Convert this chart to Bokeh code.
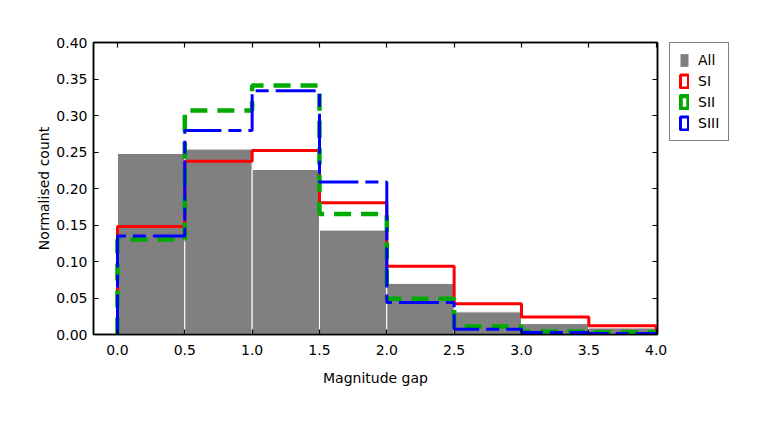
from bokeh.plotting import figure
from bokeh.layouts import row
from bokeh.models import (Range1d, LinearAxis, FixedTicker, NumeralTickFormatter,
                          Legend, LegendItem)
from bokeh.embed import file_html
from bokeh.resources import INLINE

# ---- data ----
bin_edges = [0.0, 0.5, 1.0, 1.5, 2.0, 2.5, 3.0, 3.5, 4.0]
all_vals = [0.248, 0.254, 0.226, 0.143, 0.070, 0.031, 0.015, 0.009]
si_vals = [0.148, 0.2375, 0.252, 0.1805, 0.0935, 0.042, 0.024, 0.012]
sii_vals = [0.130, 0.307, 0.341, 0.165, 0.049, 0.011, 0.004, 0.003]
siii_vals = [0.135, 0.2795, 0.334, 0.209, 0.044, 0.0073, 0.0027, 0.0012]
x_ticks = [0.0, 0.5, 1.0, 1.5, 2.0, 2.5, 3.0, 3.5, 4.0]
y_ticks = [0.0, 0.05, 0.10, 0.15, 0.20, 0.25, 0.30, 0.35, 0.40]
labels = ["All", "SI", "SII", "SIII"]
colors = ["#808080", "#ff0000", "#00aa00", "#0000ff"]

FONT = "DejaVu Sans"
FS = "14px"


def step_path(edges, vals):
    xs, ys = [edges[0]], [0.0]
    for i, v in enumerate(vals):
        xs += [edges[i], edges[i + 1]]
        ys += [v, v]
    xs.append(edges[-1])
    ys.append(0.0)
    return xs, ys


FW, FH = 564, 292
p = figure(frame_width=FW, frame_height=FH, output_backend="svg",
           toolbar_location=None, x_range=Range1d(-0.178, 4.01),
           y_range=Range1d(0.0, 0.40), min_border_left=93, min_border_top=42,
           min_border_bottom=75, min_border_right=12)
p.xgrid.visible = False
p.ygrid.visible = False
p.outline_line_color = "black"
p.outline_line_width = 1.5

centers = [(bin_edges[i] + bin_edges[i + 1]) / 2 for i in range(len(all_vals))]
widths = [bin_edges[i + 1] - bin_edges[i] for i in range(len(all_vals))]
p.vbar(x=centers, width=widths, top=all_vals, bottom=0,
       fill_color=colors[0], line_color="white", line_width=1)

xs, ys = step_path(bin_edges, si_vals)
p.line(xs, ys, line_color=colors[1], line_width=3)
xs, ys = step_path(bin_edges, sii_vals)
p.line(xs, ys, line_color=colors[2], line_width=4.5, line_dash="17 10")
xs, ys = step_path(bin_edges, siii_vals)
p.line(xs, ys, line_color=colors[3], line_width=3, line_dash="40 7 13 7")


def style_axis(ax, ticks, fmt, show_labels=True):
    ax.ticker = FixedTicker(ticks=ticks)
    ax.formatter = NumeralTickFormatter(format=fmt)
    ax.major_tick_in = 5
    ax.major_tick_out = 0
    ax.minor_tick_line_color = None
    ax.axis_line_color = "black"
    ax.axis_line_width = 1.5
    ax.major_tick_line_width = 1.2
    ax.major_tick_line_color = "black"
    ax.major_label_text_font = FONT
    if show_labels:
        ax.major_label_text_font_size = FS
        ax.major_label_text_color = "black"
    else:
        ax.major_label_text_font_size = "1px"
        ax.major_label_text_color = None
        ax.major_label_standoff = 0
    ax.axis_label_text_font = FONT
    ax.axis_label_text_font_size = FS
    ax.axis_label_text_font_style = "normal"
    ax.axis_label_text_color = "black"


style_axis(p.xaxis[0], x_ticks, "0.0")
p.xaxis[0].axis_label = "Magnitude gap"
p.xaxis[0].major_label_standoff = 10
p.xaxis[0].axis_label_standoff = 12
style_axis(p.yaxis[0], y_ticks, "0.00")
p.yaxis[0].axis_label = "Normalised count"
p.yaxis[0].major_label_standoff = 6
p.yaxis[0].axis_label_standoff = 1

top_ax = LinearAxis()
style_axis(top_ax, x_ticks, "0.0", show_labels=False)
p.add_layout(top_ax, "above")
right_ax = LinearAxis()
style_axis(right_ax, y_ticks, "0.00", show_labels=False)
p.add_layout(right_ax, "right")

# ---- legend panel (second figure, proxies lie outside its ranges) ----
p2 = figure(width=80, height=409, output_backend="svg", toolbar_location=None,
            x_range=Range1d(-2, -1), y_range=Range1d(-2, -1),
            min_border_left=0, min_border_right=0, min_border_bottom=0,
            min_border_top=41, outline_line_color=None)
p2.axis.visible = False
p2.grid.visible = False
lefts = bin_edges[:-1]
rights = bin_edges[1:]
r0 = p2.quad(left=lefts, right=rights, top=all_vals, bottom=0,
             fill_color=colors[0], line_color=None)
r1 = p2.quad(left=lefts, right=rights, top=si_vals, bottom=0,
             fill_alpha=0, line_color=colors[1], line_width=3)
r2 = p2.quad(left=lefts, right=rights, top=sii_vals, bottom=0,
             fill_alpha=0, line_color=colors[2], line_width=4.5)
r3 = p2.quad(left=lefts, right=rights, top=siii_vals, bottom=0,
             fill_alpha=0, line_color=colors[3], line_width=3)

legend = Legend(items=[LegendItem(label=labels[0], renderers=[r0]),
                       LegendItem(label=labels[1], renderers=[r1]),
                       LegendItem(label=labels[2], renderers=[r2]),
                       LegendItem(label=labels[3], renderers=[r3])],
                location="top_left")
legend.margin = 0
legend.padding = 9
legend.spacing = 5
legend.glyph_width = 10
legend.glyph_height = 16
legend.label_height = 16
legend.label_standoff = 9
legend.label_text_font = FONT
legend.label_text_font_size = FS
legend.label_text_color = "black"
legend.border_line_color = "black"
legend.border_line_width = 1
legend.background_fill_color = "white"
legend.background_fill_alpha = 1
p2.add_layout(legend, "center")

layout = row(p, p2, spacing=0)
open("out.html", "w").write(file_html(layout, INLINE))
